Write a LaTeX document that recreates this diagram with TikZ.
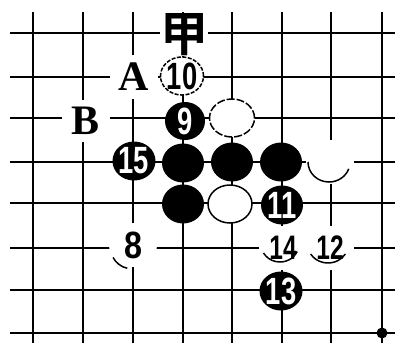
\documentclass[tikz,border=0pt]{standalone}
\usepackage{fontspec}
\newfontfamily\numfont{Liberation Sans}[FakeStretch=0.72]
\newfontfamily\numwide{Liberation Sans}[FakeStretch=0.85]
\newfontfamily\serifletter{Liberation Serif}
\newfontfamily\cjk{Noto Sans CJK SC}[BoldFont={Noto Sans CJK SC Bold}]
\usetikzlibrary{shapes.geometric}
\tikzset{
  gridline/.style={line width=2.6pt},
  bstone/.style={ellipse, fill=black, minimum width=42pt, minimum height=39pt, inner sep=0pt,
    text=white, font=\numfont\bfseries\fontsize{38}{38}\selectfont},
  wstone/.style={ellipse, fill=white, minimum width=48pt, minimum height=44pt, inner sep=0pt,
    font=\numfont\bfseries\fontsize{34}{34}\selectfont},
  wfull/.style={ellipse, fill=white, draw, line width=1.5pt, inner sep=0pt,
    font=\numfont\bfseries\fontsize{38}{38}\selectfont},
  wedge/.style={line width=1.5pt},
  letter/.style={fill=white, inner sep=0pt, minimum width=48pt, minimum height=44pt,
    font=\serifletter\bfseries\fontsize{42}{42}\selectfont},
}
\begin{document}
\begin{tikzpicture}[x=1pt,y=-1pt]
\useasboundingbox (0,0) rectangle (395,343);
% grid
\foreach \gx in {33,83,133,183,232,282,331,382}
  \draw[gridline] (\gx,12) -- (\gx,343);
\foreach \gy in {33,77,118,162,203,248,290,333}
  \draw[gridline] (10,\gy) -- (395,\gy);
% star point
\fill (382,333) circle (5.5);
% labels
\node[letter, minimum height=42pt, font=\cjk\bfseries\fontsize{48}{48}\selectfont] (jia) at (184,35) {甲};
\node[letter] (A) at (134,77) {A};
\node[letter, minimum height=42pt] (B) at (86,121) {B};
% stones
\node[wfull, dash pattern=on 4pt off 1.5pt, minimum width=40pt, minimum height=38pt] (s10) at (182,76) {10};
\node[bstone, minimum width=40pt, minimum height=38pt] (s9) at (185,121) {9};
\node[wfull, dash pattern=on 8pt off 2pt, minimum width=45pt, minimum height=38pt] (w1) at (232,118) {};
\node[bstone] (s15) at (134,161) {15};
\node[bstone] (b1) at (183,163) {};
\node[bstone] (b2) at (232,162) {};
\node[bstone] (b3) at (281,162) {};
\node[wstone] (w2) at (330,162) {};
\draw[wedge] ([shift={(180:21 and 20)}]329,162) arc[start angle=180, end angle=20, x radius=21, y radius=20];
\node[bstone] (b4) at (183,204) {};
\node[wfull, minimum width=44pt, minimum height=38pt] (w3) at (230,204) {};
\node[bstone] (s11) at (282,205) {11};
\node[wstone, font=\numwide\bfseries\fontsize{38}{38}\selectfont] (w8) at (133,245) {8};
\draw[wedge] ([shift={(155:22 and 20)}]133,249) arc[start angle=155, end angle=105, x radius=22, y radius=20];
\node[wstone] (w14) at (283,248) {14};
\draw[wedge] ([shift={(150:19 and 18)}]280,244) arc[start angle=150, end angle=25, x radius=19, y radius=18];
\node[wstone] (w12) at (330,248) {12};
\draw[wedge] ([shift={(150:20 and 18)}]328,245) arc[start angle=150, end angle=30, x radius=20, y radius=18];
\node[bstone] (s13) at (281,291) {13};
\end{tikzpicture}
\end{document}
